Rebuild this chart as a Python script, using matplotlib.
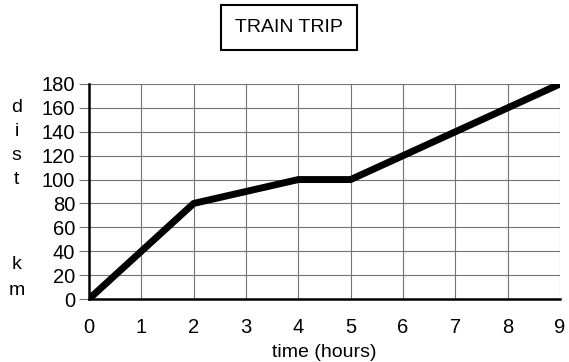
import matplotlib.pyplot as plt
import matplotlib.transforms as mtransforms
import numpy as np

plt.rcParams['font.family'] = ['Liberation Sans', 'DejaVu Sans']

### Data
time_hours = [0, 2, 4, 5, 9]
dist_km = [0, 80, 100, 100, 180]
xticks = np.arange(0, 10, 1)
yticks = np.arange(0, 181, 20)
ylabel_letters = ['d', 'i', 's', 't', 'k', 'm']
ylabel_levels = [160, 140, 120, 100, 29, 7]

fig = plt.figure(figsize=(5.69, 3.62), dpi=100)
ax = fig.add_axes([0.1564, 0.174, 0.8278, 0.594])

ax.plot(time_hours, dist_km, color='k', lw=5, solid_capstyle='round', zorder=3)

ax.set_xlim(0, 9)
ax.set_ylim(0, 180)
ax.set_xticks(xticks)
ax.set_yticks(yticks)
ax.grid(True, color='0.45', lw=0.8)
ax.set_axisbelow(True)

for s in ['top', 'right']:
    ax.spines[s].set_visible(False)
ax.spines['left'].set_linewidth(1.8)
ax.spines['bottom'].set_linewidth(1.8)

ax.tick_params(axis='y', length=7, width=0.8, color='0.45', labelsize=14.5, pad=3)
ax.tick_params(axis='x', length=0, labelsize=14.5, pad=14)
ax.set_xlabel('time (hours)', fontsize=14, labelpad=5)

### Stacked axis label, one letter per level
trans = mtransforms.blended_transform_factory(fig.transFigure, ax.transData)
for letter, lev in zip(ylabel_letters, ylabel_levels):
    ax.text(0.029, lev, letter, transform=trans, fontsize=14,
            ha='center', va='center', clip_on=False)

### Boxed title
fig.text(0.508, 0.924, 'TRAIN TRIP', fontsize=14, ha='center', va='center',
         bbox=dict(boxstyle='square,pad=0.72', fc='white', ec='k', lw=1.5))

plt.savefig('out.png', dpi=100)
